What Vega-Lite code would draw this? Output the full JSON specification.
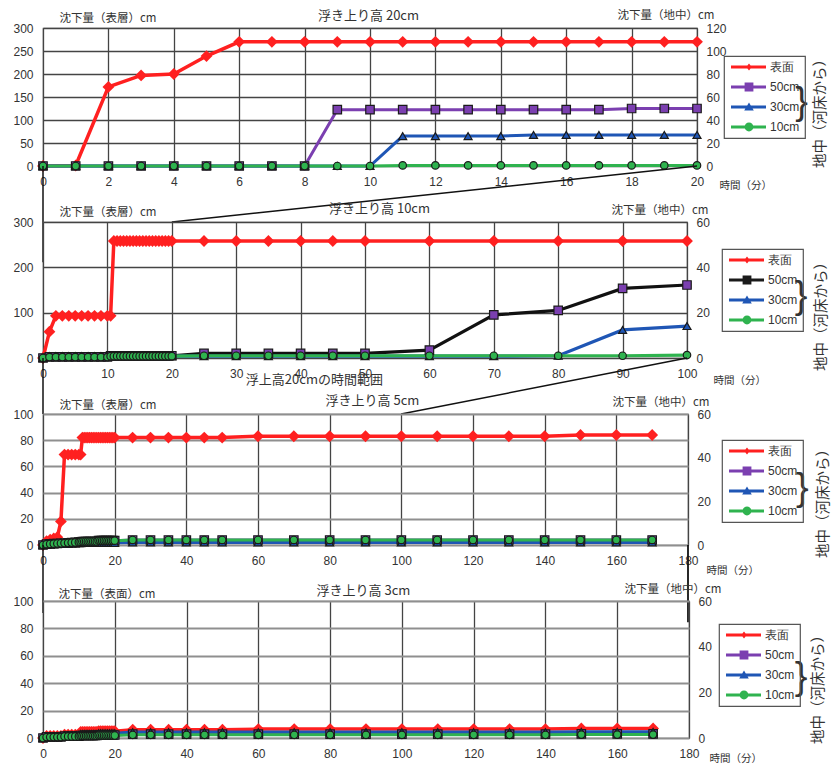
{
  "$schema": "https://vega.github.io/schema/vega-lite/v6.json",
  "autosize": {"type": "pad"},
  "padding": {"left": 12, "top": 8, "right": 0, "bottom": 0},
  "background": "white",
  "config": {
    "font": "Noto Sans CJK JP",
    "view": {"stroke": "#666", "strokeWidth": 1.2},
    "axis": {
      "labelFont": "Liberation Sans", "labelFontSize": 12, "labelColor": "#333",
      "titleFont": "Noto Sans CJK JP", "titleFontSize": 11.5, "titleFontWeight": "normal", "titleColor": "#333",
      "ticks": false, "domain": false, "gridColor": "#444", "gridWidth": 1.3, "gridOpacity": 1,
      "labelFlush": false, "labelOverlap": false
    },
    "legend": {
      "symbolStrokeWidth": 0, "symbolSize": 64, "symbolOpacity": 1,
      "padding": 5, "rowPadding": 8, "labelOffset": 29,
      "labelFont": "Liberation Sans", "labelFontSize": 12, "labelColor": "#333",
      "strokeColor": "#555", "strokeWidth": 1.2, "fillColor": "transparent"
    }
  },
  "datasets": {
    "p1": [
      {"t":0,"surface":0,"50cm":0,"30cm":0,"10cm":0},
      {"t":1,"surface":1,"50cm":0,"30cm":0,"10cm":0},
      {"t":2,"surface":172,"50cm":0,"30cm":0,"10cm":0},
      {"t":3,"surface":197,"50cm":0,"30cm":0,"10cm":0},
      {"t":4,"surface":200,"50cm":0,"30cm":0,"10cm":0},
      {"t":5,"surface":239,"50cm":0,"30cm":0,"10cm":0},
      {"t":6,"surface":270,"50cm":0,"30cm":0,"10cm":0},
      {"t":7,"surface":270,"50cm":0,"30cm":0,"10cm":0},
      {"t":8,"surface":270,"50cm":0,"30cm":0,"10cm":0},
      {"t":9,"surface":270,"50cm":49,"30cm":0,"10cm":0},
      {"t":10,"surface":270,"50cm":49,"30cm":0,"10cm":0},
      {"t":11,"surface":270,"50cm":49,"30cm":26,"10cm":0.5},
      {"t":12,"surface":270,"50cm":49,"30cm":26,"10cm":0.5},
      {"t":13,"surface":270,"50cm":49,"30cm":26,"10cm":0.5},
      {"t":14,"surface":270,"50cm":49,"30cm":26,"10cm":0.5},
      {"t":15,"surface":270,"50cm":49,"30cm":27,"10cm":0.5},
      {"t":16,"surface":270,"50cm":49,"30cm":27,"10cm":0.5},
      {"t":17,"surface":270,"50cm":49,"30cm":27,"10cm":0.5},
      {"t":18,"surface":270,"50cm":50,"30cm":27,"10cm":0.5},
      {"t":19,"surface":270,"50cm":50,"30cm":27,"10cm":0.5},
      {"t":20,"surface":270,"50cm":50,"30cm":27,"10cm":0.5}
    ],
    "p2": [
      {"t":0,"surface":0,"50cm":0,"30cm":0,"10cm":0},
      {"t":1,"surface":58,"50cm":0.5,"30cm":0.8,"10cm":0.4},
      {"t":2,"surface":93,"50cm":0.5,"30cm":0.8,"10cm":0.4},
      {"t":3,"surface":93,"50cm":0.5,"30cm":0.8,"10cm":0.4},
      {"t":4,"surface":93,"50cm":0.5,"30cm":0.8,"10cm":0.4},
      {"t":5,"surface":93,"50cm":0.5,"30cm":0.8,"10cm":0.4},
      {"t":6,"surface":93,"50cm":0.5,"30cm":0.8,"10cm":0.4},
      {"t":7,"surface":93,"50cm":0.5,"30cm":0.8,"10cm":0.4},
      {"t":8,"surface":93,"50cm":0.5,"30cm":0.8,"10cm":0.4},
      {"t":9,"surface":93,"50cm":0.5,"30cm":0.8,"10cm":0.4},
      {"t":10,"surface":93,"50cm":0.5,"30cm":0.8,"10cm":0.4},
      {"t":10.5,"surface":93,"50cm":1,"30cm":0.8,"10cm":0.8},
      {"t":11,"surface":258,"50cm":1,"30cm":0.8,"10cm":0.8},
      {"t":11.5,"surface":258,"50cm":1,"30cm":0.8,"10cm":0.8},
      {"t":12,"surface":258,"50cm":1,"30cm":0.8,"10cm":0.8},
      {"t":12.5,"surface":258,"50cm":1,"30cm":0.8,"10cm":0.8},
      {"t":13,"surface":258,"50cm":1,"30cm":0.8,"10cm":0.8},
      {"t":13.5,"surface":258,"50cm":1,"30cm":0.8,"10cm":0.8},
      {"t":14,"surface":258,"50cm":1,"30cm":0.8,"10cm":0.8},
      {"t":14.5,"surface":258,"50cm":1,"30cm":0.8,"10cm":0.8},
      {"t":15,"surface":258,"50cm":1,"30cm":0.8,"10cm":0.8},
      {"t":15.5,"surface":258,"50cm":1,"30cm":0.8,"10cm":0.8},
      {"t":16,"surface":258,"50cm":1,"30cm":0.8,"10cm":0.8},
      {"t":16.5,"surface":258,"50cm":1,"30cm":0.8,"10cm":0.8},
      {"t":17,"surface":258,"50cm":1,"30cm":0.8,"10cm":0.8},
      {"t":17.5,"surface":258,"50cm":1,"30cm":0.8,"10cm":0.8},
      {"t":18,"surface":258,"50cm":1,"30cm":0.8,"10cm":0.8},
      {"t":18.5,"surface":258,"50cm":1,"30cm":0.8,"10cm":0.8},
      {"t":19,"surface":258,"50cm":1,"30cm":0.8,"10cm":0.8},
      {"t":19.5,"surface":258,"50cm":1,"30cm":0.8,"10cm":0.8},
      {"t":20,"surface":258,"50cm":1,"30cm":0.8,"10cm":0.8},
      {"t":25,"surface":258,"50cm":2,"30cm":0.8,"10cm":1},
      {"t":30,"surface":258,"50cm":2,"30cm":0.8,"10cm":1},
      {"t":35,"surface":258,"50cm":2,"30cm":0.8,"10cm":1},
      {"t":40,"surface":258,"50cm":2,"30cm":0.8,"10cm":1},
      {"t":45,"surface":258,"50cm":2,"30cm":0.8,"10cm":1},
      {"t":50,"surface":258,"50cm":2,"30cm":0.8,"10cm":1},
      {"t":60,"surface":258,"50cm":3.5,"30cm":0.8,"10cm":1},
      {"t":70,"surface":258,"50cm":19,"30cm":0.8,"10cm":1},
      {"t":80,"surface":258,"50cm":21,"30cm":1,"10cm":1},
      {"t":90,"surface":258,"50cm":30.7,"30cm":12.4,"10cm":1},
      {"t":100,"surface":258,"50cm":32.2,"30cm":14.1,"10cm":1.3}
    ],
    "p3": [
      {"t":0,"surface":0,"50cm":0,"30cm":0,"10cm":0},
      {"t":1,"surface":3,"50cm":0.4,"30cm":0.3,"10cm":0.4},
      {"t":2,"surface":4,"50cm":0.5,"30cm":0.4,"10cm":0.5},
      {"t":3,"surface":5,"50cm":0.6,"30cm":0.4,"10cm":0.6},
      {"t":4,"surface":6,"50cm":0.7,"30cm":0.5,"10cm":0.7},
      {"t":5,"surface":18,"50cm":0.8,"30cm":0.5,"10cm":0.8},
      {"t":6,"surface":69,"50cm":0.9,"30cm":0.6,"10cm":0.9},
      {"t":7,"surface":69,"50cm":1,"30cm":0.6,"10cm":1},
      {"t":8,"surface":69,"50cm":1.1,"30cm":0.7,"10cm":1.1},
      {"t":9,"surface":69,"50cm":1.2,"30cm":0.7,"10cm":1.2},
      {"t":10,"surface":69,"50cm":1.3,"30cm":0.8,"10cm":1.3},
      {"t":10.5,"surface":69,"50cm":1.4,"30cm":0.8,"10cm":1.4},
      {"t":11,"surface":82,"50cm":1.6,"30cm":0.9,"10cm":1.6},
      {"t":11.5,"surface":82,"50cm":1.6,"30cm":0.9,"10cm":1.6},
      {"t":12,"surface":82,"50cm":1.6,"30cm":0.9,"10cm":1.6},
      {"t":12.5,"surface":82,"50cm":1.6,"30cm":0.9,"10cm":1.6},
      {"t":13,"surface":82,"50cm":1.6,"30cm":0.9,"10cm":1.6},
      {"t":13.5,"surface":82,"50cm":1.6,"30cm":0.9,"10cm":1.6},
      {"t":14,"surface":82,"50cm":1.6,"30cm":0.9,"10cm":1.6},
      {"t":14.5,"surface":82,"50cm":1.6,"30cm":0.9,"10cm":1.6},
      {"t":15,"surface":82,"50cm":1.6,"30cm":0.9,"10cm":1.6},
      {"t":15.5,"surface":82,"50cm":2,"30cm":1,"10cm":2},
      {"t":16,"surface":82,"50cm":2,"30cm":1,"10cm":2},
      {"t":16.5,"surface":82,"50cm":2,"30cm":1,"10cm":2},
      {"t":17,"surface":82,"50cm":2,"30cm":1,"10cm":2},
      {"t":17.5,"surface":82,"50cm":2,"30cm":1,"10cm":2},
      {"t":18,"surface":82,"50cm":2,"30cm":1,"10cm":2},
      {"t":18.5,"surface":82,"50cm":2,"30cm":1,"10cm":2},
      {"t":19,"surface":82,"50cm":2,"30cm":1,"10cm":2},
      {"t":19.5,"surface":82,"50cm":2,"30cm":1,"10cm":2},
      {"t":20,"surface":82,"50cm":2,"30cm":1,"10cm":2},
      {"t":25,"surface":82,"50cm":2.3,"30cm":1.2,"10cm":2.3},
      {"t":30,"surface":82,"50cm":2.3,"30cm":1.2,"10cm":2.3},
      {"t":35,"surface":82,"50cm":2.3,"30cm":1.2,"10cm":2.3},
      {"t":40,"surface":82,"50cm":2.3,"30cm":1.2,"10cm":2.3},
      {"t":45,"surface":82,"50cm":2.3,"30cm":1.2,"10cm":2.3},
      {"t":50,"surface":82,"50cm":2.3,"30cm":1.2,"10cm":2.3},
      {"t":60,"surface":83,"50cm":2.3,"30cm":1.2,"10cm":2.3},
      {"t":70,"surface":83,"50cm":2.3,"30cm":1.2,"10cm":2.3},
      {"t":80,"surface":83,"50cm":2.3,"30cm":1.2,"10cm":2.3},
      {"t":90,"surface":83,"50cm":2.3,"30cm":1.2,"10cm":2.3},
      {"t":100,"surface":83,"50cm":2.3,"30cm":1.2,"10cm":2.3},
      {"t":110,"surface":83,"50cm":2.3,"30cm":1.2,"10cm":2.3},
      {"t":120,"surface":83,"50cm":2.3,"30cm":1.2,"10cm":2.3},
      {"t":130,"surface":83,"50cm":2.3,"30cm":1.2,"10cm":2.3},
      {"t":140,"surface":83,"50cm":2.3,"30cm":1.2,"10cm":2.3},
      {"t":150,"surface":84,"50cm":2.3,"30cm":1.2,"10cm":2.3},
      {"t":160,"surface":84,"50cm":2.3,"30cm":1.2,"10cm":2.3},
      {"t":170,"surface":84,"50cm":2.3,"30cm":1.2,"10cm":2.3}
    ],
    "p4": [
      {"t":0,"surface":0,"50cm":0,"30cm":0,"10cm":0},
      {"t":1,"surface":1.5,"50cm":0.5,"30cm":0.7,"10cm":0.4},
      {"t":2,"surface":1.5,"50cm":0.5,"30cm":0.7,"10cm":0.4},
      {"t":3,"surface":1.5,"50cm":0.5,"30cm":0.7,"10cm":0.4},
      {"t":4,"surface":1.5,"50cm":0.5,"30cm":0.7,"10cm":0.4},
      {"t":5,"surface":1.5,"50cm":0.5,"30cm":0.7,"10cm":0.4},
      {"t":6,"surface":2.5,"50cm":0.8,"30cm":1.2,"10cm":0.7},
      {"t":7,"surface":2.5,"50cm":0.8,"30cm":1.2,"10cm":0.7},
      {"t":8,"surface":2.5,"50cm":0.8,"30cm":1.2,"10cm":0.7},
      {"t":9,"surface":2.5,"50cm":0.8,"30cm":1.2,"10cm":0.7},
      {"t":10,"surface":2.5,"50cm":0.8,"30cm":1.2,"10cm":0.7},
      {"t":10.5,"surface":4.5,"50cm":1.1,"30cm":1.8,"10cm":0.9},
      {"t":11,"surface":4.5,"50cm":1.1,"30cm":1.8,"10cm":0.9},
      {"t":11.5,"surface":4.5,"50cm":1.1,"30cm":1.8,"10cm":0.9},
      {"t":12,"surface":4.5,"50cm":1.1,"30cm":1.8,"10cm":0.9},
      {"t":12.5,"surface":4.5,"50cm":1.1,"30cm":1.8,"10cm":0.9},
      {"t":13,"surface":4.5,"50cm":1.1,"30cm":1.8,"10cm":0.9},
      {"t":13.5,"surface":4.5,"50cm":1.1,"30cm":1.8,"10cm":0.9},
      {"t":14,"surface":4.5,"50cm":1.1,"30cm":1.8,"10cm":0.9},
      {"t":14.5,"surface":4.5,"50cm":1.1,"30cm":1.8,"10cm":0.9},
      {"t":15,"surface":4.5,"50cm":1.1,"30cm":1.8,"10cm":0.9},
      {"t":15.5,"surface":5,"50cm":1.3,"30cm":2.1,"10cm":1.1},
      {"t":16,"surface":5,"50cm":1.3,"30cm":2.1,"10cm":1.1},
      {"t":16.5,"surface":5,"50cm":1.3,"30cm":2.1,"10cm":1.1},
      {"t":17,"surface":5,"50cm":1.3,"30cm":2.1,"10cm":1.1},
      {"t":17.5,"surface":5,"50cm":1.3,"30cm":2.1,"10cm":1.1},
      {"t":18,"surface":5,"50cm":1.3,"30cm":2.1,"10cm":1.1},
      {"t":18.5,"surface":5,"50cm":1.3,"30cm":2.1,"10cm":1.1},
      {"t":19,"surface":5,"50cm":1.3,"30cm":2.1,"10cm":1.1},
      {"t":19.5,"surface":5,"50cm":1.3,"30cm":2.1,"10cm":1.1},
      {"t":20,"surface":5,"50cm":1.3,"30cm":2.1,"10cm":1.1},
      {"t":25,"surface":6,"50cm":1.7,"30cm":2.6,"10cm":1.4},
      {"t":30,"surface":6,"50cm":1.7,"30cm":2.6,"10cm":1.4},
      {"t":35,"surface":6,"50cm":1.7,"30cm":2.6,"10cm":1.4},
      {"t":40,"surface":6,"50cm":1.7,"30cm":2.6,"10cm":1.4},
      {"t":45,"surface":6,"50cm":1.7,"30cm":2.6,"10cm":1.4},
      {"t":50,"surface":6,"50cm":1.7,"30cm":2.6,"10cm":1.4},
      {"t":60,"surface":6.5,"50cm":1.7,"30cm":2.6,"10cm":1.4},
      {"t":70,"surface":6.5,"50cm":1.7,"30cm":2.6,"10cm":1.4},
      {"t":80,"surface":6.5,"50cm":1.7,"30cm":2.6,"10cm":1.4},
      {"t":90,"surface":6.5,"50cm":1.7,"30cm":2.6,"10cm":1.4},
      {"t":100,"surface":6.5,"50cm":1.7,"30cm":2.6,"10cm":1.4},
      {"t":110,"surface":6.5,"50cm":1.7,"30cm":2.6,"10cm":1.4},
      {"t":120,"surface":6.5,"50cm":1.7,"30cm":2.6,"10cm":1.4},
      {"t":130,"surface":6.5,"50cm":1.7,"30cm":2.6,"10cm":1.4},
      {"t":140,"surface":6.5,"50cm":1.7,"30cm":2.6,"10cm":1.4},
      {"t":150,"surface":7,"50cm":1.8,"30cm":2.7,"10cm":1.5},
      {"t":160,"surface":7,"50cm":1.8,"30cm":2.7,"10cm":1.5},
      {"t":170,"surface":7,"50cm":1.8,"30cm":2.7,"10cm":1.5}
    ],
    "group": [{"label": "地中（河床から）", "brace": "}"}],
    "note": [{"label": "浮上高20cmの時間範囲"}]
  },
  "bounds": "flush",
  "spacing": 56,
  "resolve": {"scale": {"color": "independent", "fill": "independent", "shape": "independent", "size": "independent"}},
  "vconcat": [
    {
      "width": 654, "height": 138,
      "data": {"name": "p1"},
      "resolve": {"scale": {"x": "independent", "y": "independent", "fill": "independent", "shape": "independent"}},
      "layer": [
        {
          "encoding": {
            "x": {"field": "t", "type": "quantitative", "scale": {"domain": [0, 20], "nice": false},
                  "axis": {"orient": "bottom", "values": [0,2,4,6,8,10,12,14,16,18,20], "grid": true, "labelPadding": 10,
                           "title": "時間（分）", "titleFontSize": 10.5, "titleX": 676, "titleY": 19, "titleAlign": "left", "titleBaseline": "middle", "titleAngle": 0}},
            "y": {"field": "surface", "type": "quantitative", "scale": {"domain": [0, 300], "nice": false},
                  "axis": {"orient": "left", "values": [0,50,100,150,200,250,300], "grid": true, "labelPadding": 10,
                           "title": "沈下量（表層）cm", "titleAngle": 0, "titleX": 16, "titleY": -10, "titleAlign": "left", "titleBaseline": "middle"}}
          },
          "layer": [
            {"mark": {"type": "line", "color": "#ff2020", "strokeWidth": 3.5}},
            {"mark": {"type": "point", "shape": "diamond", "filled": true, "color": "#ff2020", "size": 140, "opacity": 1}}
          ]
        },
        {
          "transform": [{"fold": ["50cm", "30cm", "10cm"], "as": ["s", "v"]}],
          "encoding": {
            "x": {"field": "t", "type": "quantitative", "scale": {"domain": [0, 20], "nice": false}, "axis": null},
            "y": {"field": "v", "type": "quantitative", "scale": {"domain": [0, 120], "nice": false},
                  "axis": {"orient": "right", "values": [0,20,40,60,80,100,120], "grid": false, "labelPadding": 9,
                           "title": "沈下量（地中）cm", "titleAngle": 0, "titleX": 17, "titleY": -13, "titleAlign": "right", "titleBaseline": "middle"}}
          },
          "layer": [
            {"mark": {"type": "line", "strokeWidth": 3},
             "encoding": {"color": {"field": "s", "type": "nominal", "scale": {"domain": ["50cm","30cm","10cm"], "range": ["#7b3fb0","#1f56b5","#2fb34f"]}, "legend": null}}},
            {"mark": {"type": "point", "filled": true, "stroke": "#1a1a1a", "strokeWidth": 1.2, "opacity": 1},
             "encoding": {
               "fill": {"field": "s", "type": "nominal", "scale": {"domain": ["50cm","30cm","10cm"], "range": ["#7b3fb0","#1f56b5","#2fb34f"]}, "legend": null},
               "shape": {"field": "s", "type": "nominal", "scale": {"domain": ["50cm","30cm","10cm"], "range": ["square","triangle-up","circle"]}, "legend": null},
               "size": {"field": "s", "type": "nominal", "scale": {"domain": ["50cm","30cm","10cm"], "range": [72,56,64]}, "legend": null},
               "order": {"field": "s", "sort": "descending"}
             }}
          ]
        },
        {
          "data": {"values": [{}]},
          "transform": [{"filter": "false"}],
          "mark": {"type": "point", "filled": true, "size": 64},
          "encoding": {
            "x": {"datum": 0, "type": "quantitative", "scale": {"domain": [0, 1]},
                  "axis": {"orient": "top", "labels": false, "grid": false, "title": "浮き上り高 20cm", "titleFontSize": 13,
                           "titleX": 325, "titleY": -13, "titleAlign": "center", "titleBaseline": "middle", "titleAngle": 0}},
            "fill": {"field": "s", "type": "nominal",
                     "scale": {"domain": ["表面","50cm","30cm","10cm"], "range": ["#ff2020","#7b3fb0","#1f56b5","#2fb34f"]},
                     "legend": {"title": null, "orient": "none", "legendX": 681, "legendY": 28}},
            "shape": {"field": "s", "type": "nominal",
                      "scale": {"domain": ["表面","50cm","30cm","10cm"], "range": [
                        "M-1,-0.4H7.75V0.4H-1ZM3.5,-0.9L4.2,0L3.5,0.9L2.8,0Z",
                        "M-1,-0.4H7.75V0.4H-1ZM2.4,-1.1H4.6V1.1H2.4Z",
                        "M-1,-0.4H7.75V0.4H-1ZM3.5,-1.1L4.7,0.9H2.3Z",
                        "M-1,-0.4H7.75V0.4H-1ZM2.4,0A1.1,1.1 0 1,1 4.6,0A1.1,1.1 0 1,1 2.4,0Z"]},
                      "legend": {"title": null, "orient": "none", "legendX": 681, "legendY": 28}}
          }
        },
        {
          "data": {"name": "group"},
          "layer": [
            {"mark": {"type": "rule", "color": "#111", "strokeWidth": 1.5, "clip": false},
             "encoding": {"x": {"datum": 0, "type": "quantitative", "scale": {"domain": [0, 20], "nice": false}, "axis": null}, "x2": {"datum": 0},
                          "y": {"datum": 0, "type": "quantitative", "scale": {"domain": [0, 300], "nice": false}, "axis": null}, "y2": {"datum": -209}}},
            {"mark": {"type": "rule", "color": "#111", "strokeWidth": 1.5, "clip": false},
             "encoding": {"x": {"datum": 20, "type": "quantitative", "scale": {"domain": [0, 20], "nice": false}, "axis": null}, "x2": {"datum": 3.94},
                          "y": {"datum": 0, "type": "quantitative", "scale": {"domain": [0, 300], "nice": false}, "axis": null}, "y2": {"datum": -121.7}}},
            {"mark": {"type": "text", "font": "Liberation Sans", "fontSize": 38, "color": "#333", "align": "center", "baseline": "middle", "clip": false},
             "encoding": {"text": {"field": "brace"},
                          "x": {"datum": 23.2, "type": "quantitative", "scale": {"domain": [0, 20], "nice": false}, "axis": null},
                          "y": {"datum": 135.9, "type": "quantitative", "scale": {"domain": [0, 300], "nice": false}, "axis": null}}},
            {"mark": {"type": "text", "fontSize": 14.5, "angle": 270, "color": "#333", "align": "center", "baseline": "middle", "clip": false},
             "encoding": {"text": {"field": "label"},
                          "x": {"datum": 23.8, "type": "quantitative", "scale": {"domain": [0, 20], "nice": false}, "axis": null},
                          "y": {"datum": 121.7, "type": "quantitative", "scale": {"domain": [0, 300], "nice": false}, "axis": null}}}
          ]
        }
      ]
    },
    {
      "width": 644, "height": 136,
      "data": {"name": "p2"},
      "resolve": {"scale": {"x": "independent", "y": "independent", "fill": "independent", "shape": "independent"}},
      "layer": [
        {
          "encoding": {
            "x": {"field": "t", "type": "quantitative", "scale": {"domain": [0, 100], "nice": false},
                  "axis": {"orient": "bottom", "values": [0,10,20,30,40,50,60,70,80,90,100], "grid": true, "labelPadding": 10,
                           "title": "時間（分）", "titleFontSize": 10.5, "titleX": 670, "titleY": 22, "titleAlign": "left", "titleBaseline": "middle", "titleAngle": 0}},
            "y": {"field": "surface", "type": "quantitative", "scale": {"domain": [0, 300], "nice": false},
                  "axis": {"orient": "left", "values": [0,100,200,300], "grid": true, "labelPadding": 10,
                           "title": "沈下量（表層）cm", "titleAngle": 0, "titleX": 16, "titleY": -10, "titleAlign": "left", "titleBaseline": "middle"}}
          },
          "layer": [
            {"mark": {"type": "line", "color": "#ff2020", "strokeWidth": 3.5}},
            {"mark": {"type": "point", "shape": "diamond", "filled": true, "color": "#ff2020", "size": 140, "opacity": 1}}
          ]
        },
        {
          "transform": [{"fold": ["50cm", "30cm", "10cm"], "as": ["s", "v"]}],
          "encoding": {
            "x": {"field": "t", "type": "quantitative", "scale": {"domain": [0, 100], "nice": false}, "axis": null},
            "y": {"field": "v", "type": "quantitative", "scale": {"domain": [0, 60], "nice": false},
                  "axis": {"orient": "right", "values": [0,20,40,60], "grid": false, "labelPadding": 9,
                           "title": "沈下量（地中）cm", "titleAngle": 0, "titleX": 21, "titleY": -12, "titleAlign": "right", "titleBaseline": "middle"}}
          },
          "layer": [
            {"mark": {"type": "line", "strokeWidth": 3.2},
             "encoding": {"color": {"field": "s", "type": "nominal", "scale": {"domain": ["50cm","30cm","10cm"], "range": ["#111111","#1f56b5","#2fb34f"]}, "legend": null}}},
            {"mark": {"type": "point", "filled": true, "stroke": "#1a1a1a", "strokeWidth": 1.2, "opacity": 1},
             "encoding": {
               "fill": {"field": "s", "type": "nominal", "scale": {"domain": ["50cm","30cm","10cm"], "range": ["#7b3fb0","#1f56b5","#2fb34f"]}, "legend": null},
               "shape": {"field": "s", "type": "nominal", "scale": {"domain": ["50cm","30cm","10cm"], "range": ["square","triangle-up","circle"]}, "legend": null},
               "size": {"field": "s", "type": "nominal", "scale": {"domain": ["50cm","30cm","10cm"], "range": [72,56,64]}, "legend": null},
               "order": {"field": "s", "sort": "descending"}
             }}
          ]
        },
        {
          "data": {"values": [{}]},
          "transform": [{"filter": "false"}],
          "mark": {"type": "point", "filled": true, "size": 64},
          "encoding": {
            "x": {"datum": 0, "type": "quantitative", "scale": {"domain": [0, 1]},
                  "axis": {"orient": "top", "labels": false, "grid": false, "title": "浮き上り高 10cm", "titleFontSize": 13,
                           "titleX": 336, "titleY": -14, "titleAlign": "center", "titleBaseline": "middle", "titleAngle": 0}},
            "fill": {"field": "s", "type": "nominal",
                     "scale": {"domain": ["表面","50cm","30cm","10cm"], "range": ["#ff2020","#1a1a1a","#1f56b5","#2fb34f"]},
                     "legend": {"title": null, "orient": "none", "legendX": 679, "legendY": 27}},
            "shape": {"field": "s", "type": "nominal",
                      "scale": {"domain": ["表面","50cm","30cm","10cm"], "range": [
                        "M-1,-0.4H7.75V0.4H-1ZM3.5,-0.9L4.2,0L3.5,0.9L2.8,0Z",
                        "M-1,-0.4H7.75V0.4H-1ZM2.4,-1.1H4.6V1.1H2.4Z",
                        "M-1,-0.4H7.75V0.4H-1ZM3.5,-1.1L4.7,0.9H2.3Z",
                        "M-1,-0.4H7.75V0.4H-1ZM2.4,0A1.1,1.1 0 1,1 4.6,0A1.1,1.1 0 1,1 2.4,0Z"]},
                      "legend": {"title": null, "orient": "none", "legendX": 679, "legendY": 27}}
          }
        },
        {
          "data": {"name": "group"},
          "layer": [
            {"mark": {"type": "rule", "color": "#111", "strokeWidth": 1.5, "clip": false},
             "encoding": {"x": {"datum": 0, "type": "quantitative", "scale": {"domain": [0, 100], "nice": false}, "axis": null}, "x2": {"datum": 0},
                          "y": {"datum": 0, "type": "quantitative", "scale": {"domain": [0, 300], "nice": false}, "axis": null}, "y2": {"datum": -123.5}}},
            {"mark": {"type": "rule", "color": "#111", "strokeWidth": 1.5, "clip": false},
             "encoding": {"x": {"datum": 100, "type": "quantitative", "scale": {"domain": [0, 100], "nice": false}, "axis": null}, "x2": {"datum": 55.6},
                          "y": {"datum": 0, "type": "quantitative", "scale": {"domain": [0, 300], "nice": false}, "axis": null}, "y2": {"datum": -123.5}}},
            {"mark": {"type": "text", "font": "Liberation Sans", "fontSize": 38, "color": "#333", "align": "center", "baseline": "middle", "clip": false},
             "encoding": {"text": {"field": "brace"},
                          "x": {"datum": 117.7, "type": "quantitative", "scale": {"domain": [0, 100], "nice": false}, "axis": null},
                          "y": {"datum": 134.6, "type": "quantitative", "scale": {"domain": [0, 300], "nice": false}, "axis": null}}},
            {"mark": {"type": "text", "fontSize": 14.5, "angle": 270, "color": "#333", "align": "center", "baseline": "middle", "clip": false},
             "encoding": {"text": {"field": "label"},
                          "x": {"datum": 120.9, "type": "quantitative", "scale": {"domain": [0, 100], "nice": false}, "axis": null},
                          "y": {"datum": 99.3, "type": "quantitative", "scale": {"domain": [0, 300], "nice": false}, "axis": null}}},
            {"data": {"name": "note"},
             "mark": {"type": "text", "fontSize": 13, "color": "#333", "align": "left", "baseline": "middle", "clip": false},
             "encoding": {"text": {"field": "label"},
                          "x": {"datum": 31.5, "type": "quantitative", "scale": {"domain": [0, 100], "nice": false}, "axis": null},
                          "y": {"datum": -48.5, "type": "quantitative", "scale": {"domain": [0, 300], "nice": false}, "axis": null}}}
          ]
        }
      ]
    },
    {
      "width": 645, "height": 131,
      "data": {"name": "p3"},
      "resolve": {"scale": {"x": "independent", "y": "independent", "fill": "independent", "shape": "independent"}},
      "layer": [
        {
          "encoding": {
            "x": {"field": "t", "type": "quantitative", "scale": {"domain": [0, 180], "nice": false},
                  "axis": {"orient": "bottom", "values": [0,20,40,60,80,100,120,140,160,180], "grid": true, "labelPadding": 10,
                           "title": "時間（分）", "titleFontSize": 10.5, "titleX": 663, "titleY": 25, "titleAlign": "left", "titleBaseline": "middle", "titleAngle": 0}},
            "y": {"field": "surface", "type": "quantitative", "scale": {"domain": [0, 100], "nice": false},
                  "axis": {"orient": "left", "values": [0,20,40,60,80,100], "grid": true, "gridColor": "#8f8f8f", "gridWidth": 2, "labelPadding": 10,
                           "title": "沈下量（表層）cm", "titleAngle": 0, "titleX": 16, "titleY": -9, "titleAlign": "left", "titleBaseline": "middle"}}
          },
          "layer": [
            {"mark": {"type": "line", "color": "#ff2020", "strokeWidth": 3.5}},
            {"mark": {"type": "point", "shape": "diamond", "filled": true, "color": "#ff2020", "size": 140, "opacity": 1}}
          ]
        },
        {
          "transform": [{"fold": ["50cm", "30cm", "10cm"], "as": ["s", "v"]}],
          "encoding": {
            "x": {"field": "t", "type": "quantitative", "scale": {"domain": [0, 180], "nice": false}, "axis": null},
            "y": {"field": "v", "type": "quantitative", "scale": {"domain": [0, 60], "nice": false},
                  "axis": {"orient": "right", "values": [0,20,40,60], "grid": false, "labelPadding": 9,
                           "title": "沈下量（地中）cm", "titleAngle": 0, "titleX": 21, "titleY": -12, "titleAlign": "right", "titleBaseline": "middle"}}
          },
          "layer": [
            {"mark": {"type": "line", "strokeWidth": 3},
             "encoding": {"color": {"field": "s", "type": "nominal", "scale": {"domain": ["50cm","30cm","10cm"], "range": ["#7b3fb0","#1f56b5","#2fb34f"]}, "legend": null}}},
            {"mark": {"type": "point", "filled": true, "stroke": "#1a1a1a", "strokeWidth": 1.2, "opacity": 1},
             "encoding": {
               "fill": {"field": "s", "type": "nominal", "scale": {"domain": ["50cm","30cm","10cm"], "range": ["#7b3fb0","#1f56b5","#2fb34f"]}, "legend": null},
               "shape": {"field": "s", "type": "nominal", "scale": {"domain": ["50cm","30cm","10cm"], "range": ["square","triangle-up","circle"]}, "legend": null},
               "size": {"field": "s", "type": "nominal", "scale": {"domain": ["50cm","30cm","10cm"], "range": [72,56,64]}, "legend": null},
               "order": {"field": "s", "sort": "descending"}
             }}
          ]
        },
        {
          "data": {"values": [{}]},
          "transform": [{"filter": "false"}],
          "mark": {"type": "point", "filled": true, "size": 64},
          "encoding": {
            "x": {"datum": 0, "type": "quantitative", "scale": {"domain": [0, 1]},
                  "axis": {"orient": "top", "labels": false, "grid": false, "title": "浮き上り高 5cm", "titleFontSize": 13,
                           "titleX": 329, "titleY": -14, "titleAlign": "center", "titleBaseline": "middle", "titleAngle": 0}},
            "fill": {"field": "s", "type": "nominal",
                     "scale": {"domain": ["表面","50cm","30cm","10cm"], "range": ["#ff2020","#7b3fb0","#1f56b5","#2fb34f"]},
                     "legend": {"title": null, "orient": "none", "legendX": 679, "legendY": 26}},
            "shape": {"field": "s", "type": "nominal",
                      "scale": {"domain": ["表面","50cm","30cm","10cm"], "range": [
                        "M-1,-0.4H7.75V0.4H-1ZM3.5,-0.9L4.2,0L3.5,0.9L2.8,0Z",
                        "M-1,-0.4H7.75V0.4H-1ZM2.4,-1.1H4.6V1.1H2.4Z",
                        "M-1,-0.4H7.75V0.4H-1ZM3.5,-1.1L4.7,0.9H2.3Z",
                        "M-1,-0.4H7.75V0.4H-1ZM2.4,0A1.1,1.1 0 1,1 4.6,0A1.1,1.1 0 1,1 2.4,0Z"]},
                      "legend": {"title": null, "orient": "none", "legendX": 679, "legendY": 26}}
          }
        },
        {
          "data": {"name": "group"},
          "layer": [
            {"mark": {"type": "rule", "color": "#111", "strokeWidth": 1.5, "clip": false},
             "encoding": {"x": {"datum": 0, "type": "quantitative", "scale": {"domain": [0, 180], "nice": false}, "axis": null}, "x2": {"datum": 0},
                          "y": {"datum": 0, "type": "quantitative", "scale": {"domain": [0, 100], "nice": false}, "axis": null}, "y2": {"datum": -52}}},
            {"mark": {"type": "rule", "color": "#111", "strokeWidth": 1.8, "clip": false},
             "encoding": {"x": {"datum": 180, "type": "quantitative", "scale": {"domain": [0, 180], "nice": false}, "axis": null}, "x2": {"datum": 180},
                          "y": {"datum": 0, "type": "quantitative", "scale": {"domain": [0, 100], "nice": false}, "axis": null}, "y2": {"datum": -59}}},
            {"mark": {"type": "text", "font": "Liberation Sans", "fontSize": 38, "color": "#333", "align": "center", "baseline": "middle", "clip": false},
             "encoding": {"text": {"field": "brace"},
                          "x": {"datum": 211.9, "type": "quantitative", "scale": {"domain": [0, 180], "nice": false}, "axis": null},
                          "y": {"datum": 42.7, "type": "quantitative", "scale": {"domain": [0, 100], "nice": false}, "axis": null}}},
            {"mark": {"type": "text", "fontSize": 14.5, "angle": 270, "color": "#333", "align": "center", "baseline": "middle", "clip": false},
             "encoding": {"text": {"field": "label"},
                          "x": {"datum": 218, "type": "quantitative", "scale": {"domain": [0, 180], "nice": false}, "axis": null},
                          "y": {"datum": 34.4, "type": "quantitative", "scale": {"domain": [0, 100], "nice": false}, "axis": null}}}
          ]
        }
      ]
    },
    {
      "width": 646, "height": 137,
      "data": {"name": "p4"},
      "resolve": {"scale": {"x": "independent", "y": "independent", "fill": "independent", "shape": "independent"}},
      "layer": [
        {
          "encoding": {
            "x": {"field": "t", "type": "quantitative", "scale": {"domain": [0, 180], "nice": false},
                  "axis": {"orient": "bottom", "values": [0,20,40,60,80,100,120,140,160,180], "grid": true, "labelPadding": 10,
                           "title": "時間（分）", "titleFontSize": 10.5, "titleX": 666, "titleY": 20, "titleAlign": "left", "titleBaseline": "middle", "titleAngle": 0}},
            "y": {"field": "surface", "type": "quantitative", "scale": {"domain": [0, 100], "nice": false},
                  "axis": {"orient": "left", "values": [0,20,40,60,80,100], "grid": true, "gridColor": "#8f8f8f", "gridWidth": 2, "labelPadding": 10,
                           "title": "沈下量（表面）cm", "titleAngle": 0, "titleX": 15, "titleY": -7, "titleAlign": "left", "titleBaseline": "middle"}}
          },
          "layer": [
            {"mark": {"type": "line", "color": "#ff2020", "strokeWidth": 3.5}},
            {"mark": {"type": "point", "shape": "diamond", "filled": true, "color": "#ff2020", "size": 140, "opacity": 1}}
          ]
        },
        {
          "transform": [{"fold": ["50cm", "30cm", "10cm"], "as": ["s", "v"]}],
          "encoding": {
            "x": {"field": "t", "type": "quantitative", "scale": {"domain": [0, 180], "nice": false}, "axis": null},
            "y": {"field": "v", "type": "quantitative", "scale": {"domain": [0, 60], "nice": false},
                  "axis": {"orient": "right", "values": [0,20,40,60], "grid": false, "labelPadding": 9,
                           "title": "沈下量（地中）cm", "titleAngle": 0, "titleX": 32, "titleY": -12, "titleAlign": "right", "titleBaseline": "middle"}}
          },
          "layer": [
            {"mark": {"type": "line", "strokeWidth": 3},
             "encoding": {"color": {"field": "s", "type": "nominal", "scale": {"domain": ["50cm","30cm","10cm"], "range": ["#7b3fb0","#1f56b5","#2fb34f"]}, "legend": null}}},
            {"mark": {"type": "point", "filled": true, "stroke": "#1a1a1a", "strokeWidth": 1.2, "opacity": 1},
             "encoding": {
               "fill": {"field": "s", "type": "nominal", "scale": {"domain": ["50cm","30cm","10cm"], "range": ["#7b3fb0","#1f56b5","#2fb34f"]}, "legend": null},
               "shape": {"field": "s", "type": "nominal", "scale": {"domain": ["50cm","30cm","10cm"], "range": ["square","triangle-up","circle"]}, "legend": null},
               "size": {"field": "s", "type": "nominal", "scale": {"domain": ["50cm","30cm","10cm"], "range": [72,56,64]}, "legend": null},
               "order": {"field": "s", "sort": "descending"}
             }}
          ]
        },
        {
          "data": {"values": [{}]},
          "transform": [{"filter": "false"}],
          "mark": {"type": "point", "filled": true, "size": 64},
          "encoding": {
            "x": {"datum": 0, "type": "quantitative", "scale": {"domain": [0, 1]},
                  "axis": {"orient": "top", "labels": false, "grid": false, "title": "浮き上り高 3cm", "titleFontSize": 13,
                           "titleX": 320, "titleY": -11, "titleAlign": "center", "titleBaseline": "middle", "titleAngle": 0}},
            "fill": {"field": "s", "type": "nominal",
                     "scale": {"domain": ["表面","50cm","30cm","10cm"], "range": ["#ff2020","#7b3fb0","#1f56b5","#2fb34f"]},
                     "legend": {"title": null, "orient": "none", "legendX": 676, "legendY": 23}},
            "shape": {"field": "s", "type": "nominal",
                      "scale": {"domain": ["表面","50cm","30cm","10cm"], "range": [
                        "M-1,-0.4H7.75V0.4H-1ZM3.5,-0.9L4.2,0L3.5,0.9L2.8,0Z",
                        "M-1,-0.4H7.75V0.4H-1ZM2.4,-1.1H4.6V1.1H2.4Z",
                        "M-1,-0.4H7.75V0.4H-1ZM3.5,-1.1L4.7,0.9H2.3Z",
                        "M-1,-0.4H7.75V0.4H-1ZM2.4,0A1.1,1.1 0 1,1 4.6,0A1.1,1.1 0 1,1 2.4,0Z"]},
                      "legend": {"title": null, "orient": "none", "legendX": 676, "legendY": 23}}
          }
        },
        {
          "data": {"name": "group"},
          "layer": [
            {"mark": {"type": "text", "font": "Liberation Sans", "fontSize": 38, "color": "#333", "align": "center", "baseline": "middle", "clip": false},
             "encoding": {"text": {"field": "brace"},
                          "x": {"datum": 211.2, "type": "quantitative", "scale": {"domain": [0, 180], "nice": false}, "axis": null},
                          "y": {"datum": 43.8, "type": "quantitative", "scale": {"domain": [0, 100], "nice": false}, "axis": null}}},
            {"mark": {"type": "text", "fontSize": 14.5, "angle": 270, "color": "#333", "align": "center", "baseline": "middle", "clip": false},
             "encoding": {"text": {"field": "label"},
                          "x": {"datum": 216.2, "type": "quantitative", "scale": {"domain": [0, 180], "nice": false}, "axis": null},
                          "y": {"datum": 38, "type": "quantitative", "scale": {"domain": [0, 100], "nice": false}, "axis": null}}}
          ]
        }
      ]
    }
  ]
}
